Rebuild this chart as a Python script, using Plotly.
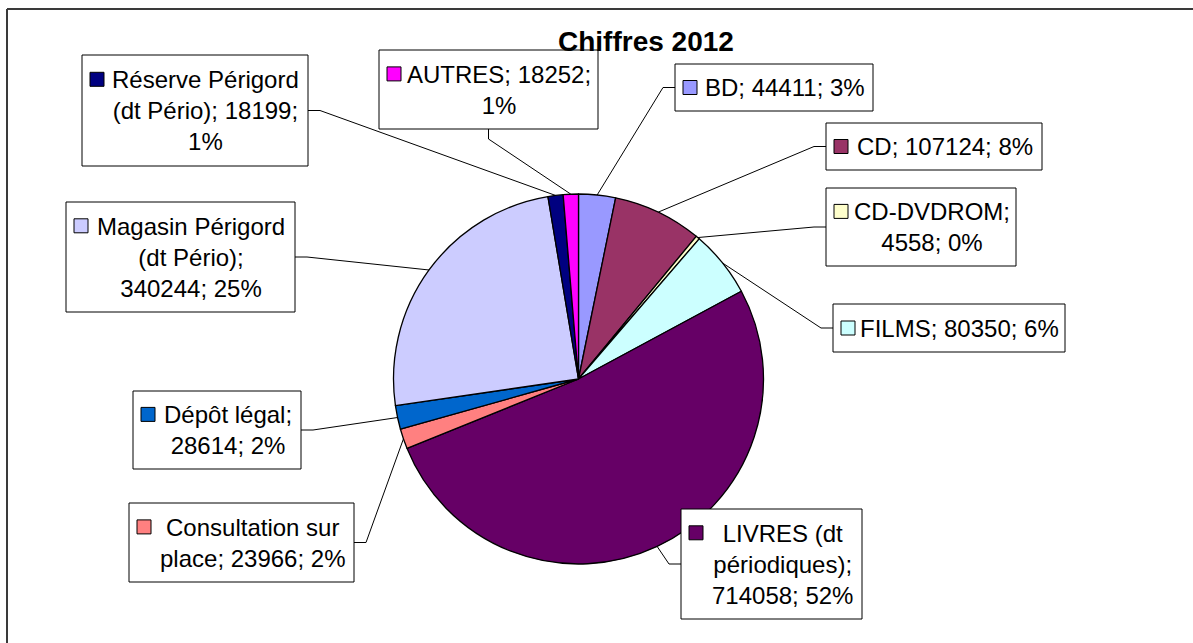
import math
import plotly.graph_objects as go

# ---------------- data ----------------
labels = ["BD", "CD", "CD-DVDROM", "FILMS", "LIVRES (dt périodiques)",
          "Consultation sur place", "Dépôt légal", "Magasin Périgord (dt Pério)",
          "Réserve Périgord (dt Pério)", "AUTRES"]
values = [44411, 107124, 4558, 80350, 714058, 23966, 28614, 340244, 18199, 18252]
colors = ["#9999FF", "#993366", "#FFFFCC", "#CCFFFF", "#660066",
          "#FF8080", "#0066CC", "#CCCCFF", "#000080", "#FF00FF"]
# label text with the line breaks used in the chart
label_templates = [
    "BD; {v}; {p}",
    "CD; {v}; {p}",
    "CD-DVDROM;<br>{v}; {p}",
    "FILMS; {v}; {p}",
    "LIVRES (dt<br>périodiques);<br>{v}; {p}",
    "Consultation sur<br>place; {v}; {p}",
    "Dépôt légal;<br>{v}; {p}",
    "Magasin Périgord<br>(dt Pério);<br>{v}; {p}",
    "Réserve Périgord<br>(dt Pério); {v};<br>{p}",
    "AUTRES; {v};<br>{p}",
]
title_text = "Chiffres 2012"

# ---------------- layout constants (pixels) ----------------
W, H = 1193, 643
CX, CY, R = 578.5, 379.0, 185.0
FONT = "Arial, Liberation Sans, sans-serif"
FS = 24
LINE = 1.3 * FS
# label boxes: left, top, right, bottom, side of the box where the leader attaches
boxes = [
    (675, 64, 873, 111, "left"),
    (826, 123, 1042, 170, "left"),
    (826, 188, 1016, 266, "left"),
    (833, 304, 1065, 352, "left"),
    (681, 509, 862, 619, "left"),
    (129, 503, 354, 582, "right"),
    (133, 391, 301, 469, "right"),
    (66, 202, 295, 312, "right"),
    (82, 55, 308, 166, "right"),
    (379, 50, 598, 129, "bottom"),
]


def px(x):
    return x / W


def py(y):
    return 1 - y / H


total = sum(values)

fig = go.Figure()
fig.add_trace(go.Pie(
    values=values, labels=labels, sort=False, direction="clockwise", rotation=0,
    marker=dict(colors=colors, line=dict(color="black", width=1.3)),
    textinfo="none", hoverinfo="skip", showlegend=False,
    domain=dict(x=[px(CX - R), px(CX + R)], y=[py(CY + R), py(CY - R)]),
))

shapes = []
annotations = []

# chart outer border (only top and left edges fall inside the frame)
shapes.append(dict(type="line", xref="paper", yref="paper",
                   x0=px(7), y0=py(9), x1=1, y1=py(9),
                   line=dict(color="#3a3a3a", width=2), layer="above"))
shapes.append(dict(type="line", xref="paper", yref="paper",
                   x0=px(7), y0=py(9), x1=px(7), y1=0,
                   line=dict(color="#3a3a3a", width=2), layer="above"))

cum = 0
for i, v in enumerate(values):
    mid = (cum + v / 2) / total * 2 * math.pi
    cum += v
    ex, ey = CX + R * math.sin(mid), CY - R * math.cos(mid)
    L, T, Rt, B, side = boxes[i]
    mx, my = (L + Rt) / 2, (T + B) / 2
    if side == "left":
        a0, a1 = (L, my), (L - 12, my)
    elif side == "right":
        a0, a1 = (Rt, my), (Rt + 12, my)
    else:
        a0, a1 = (mx, B), (mx, B + 10)
    path = "M {} {} L {} {} L {} {}".format(px(a0[0]), py(a0[1]), px(a1[0]), py(a1[1]),
                                              px(ex), py(ey))
    shapes.append(dict(type="path", xref="paper", yref="paper", path=path,
                       line=dict(color="black", width=1), layer="above"))

for i, v in enumerate(values):
    L, T, Rt, B, side = boxes[i]
    shapes.append(dict(type="rect", xref="paper", yref="paper",
                       x0=px(L), y0=py(B), x1=px(Rt), y1=py(T),
                       line=dict(color="black", width=1), fillcolor="white",
                       layer="above"))
    pct = "{}%".format(round(v / total * 100))
    txt = label_templates[i].format(v=v, p=pct)
    nlines = txt.count("<br>") + 1
    cy_box = (T + B) / 2
    first_line = cy_box - (nlines - 1) * LINE / 2
    kx = L + 8
    shapes.append(dict(type="rect", xref="paper", yref="paper",
                       x0=px(kx), x1=px(kx + 14), y0=py(first_line + 7), y1=py(first_line - 7),
                       line=dict(color="black", width=1), fillcolor=colors[i],
                       layer="above"))
    tx = (L + Rt + 21) / 2
    annotations.append(dict(xref="paper", yref="paper", x=px(tx), y=py(cy_box),
                            xanchor="center", yanchor="middle", text=txt,
                            showarrow=False, align="center",
                            font=dict(family=FONT, size=FS, color="black")))

annotations.append(dict(xref="paper", yref="paper", x=px(646), y=py(41),
                        xanchor="center", yanchor="middle",
                        text="<b>{}</b>".format(title_text), showarrow=False,
                        font=dict(family=FONT, size=28, color="black")))

fig.update_layout(width=W, height=H, margin=dict(l=0, r=0, t=0, b=0),
                  paper_bgcolor="white", plot_bgcolor="white",
                  shapes=shapes, annotations=annotations, showlegend=False)

fig.write_html(
    "out.html", config={"displayModeBar": False},
    post_script=("document.body.style.margin='0';"
                 "document.body.style.overflow='hidden';"
                 "document.documentElement.style.overflow='hidden';"))
